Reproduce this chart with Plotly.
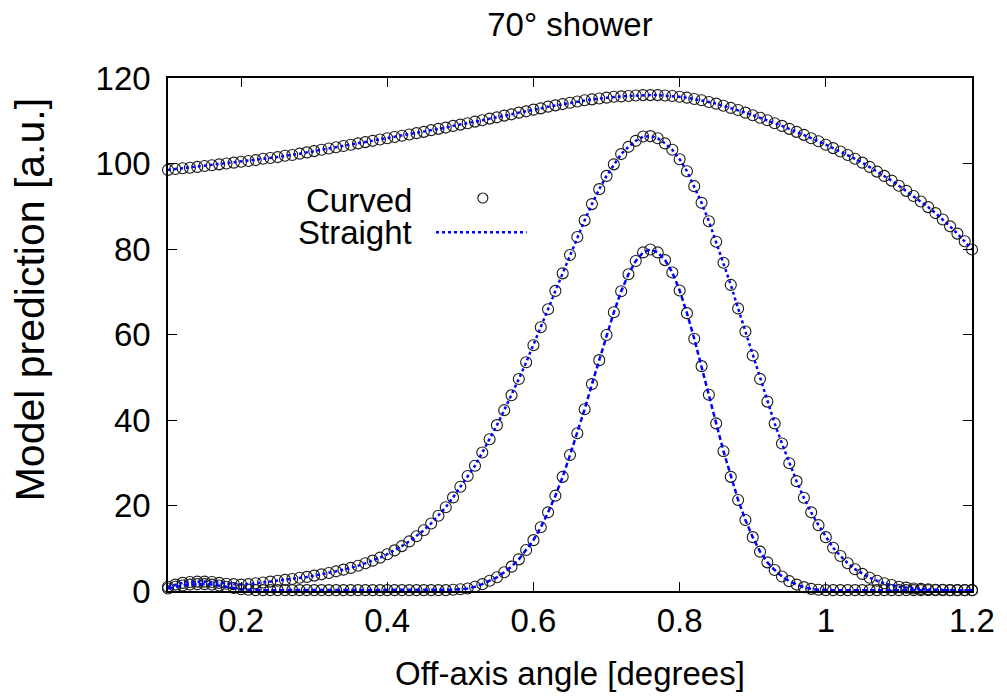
import plotly.graph_objects as go

# ---------------- data ----------------
angle = [0.10, 0.11, 0.12, 0.13, 0.14, 0.15, 0.16, 0.17, 0.18, 0.19,
         0.20, 0.21, 0.22, 0.23, 0.24, 0.25, 0.26, 0.27, 0.28, 0.29,
         0.30, 0.31, 0.32, 0.33, 0.34, 0.35, 0.36, 0.37, 0.38, 0.39,
         0.40, 0.41, 0.42, 0.43, 0.44, 0.45, 0.46, 0.47, 0.48, 0.49,
         0.50, 0.51, 0.52, 0.53, 0.54, 0.55, 0.56, 0.57, 0.58, 0.59,
         0.60, 0.61, 0.62, 0.63, 0.64, 0.65, 0.66, 0.67, 0.68, 0.69,
         0.70, 0.71, 0.72, 0.73, 0.74, 0.75, 0.76, 0.77, 0.78, 0.79,
         0.80, 0.81, 0.82, 0.83, 0.84, 0.85, 0.86, 0.87, 0.88, 0.89,
         0.90, 0.91, 0.92, 0.93, 0.94, 0.95, 0.96, 0.97, 0.98, 0.99,
         1.00, 1.01, 1.02, 1.03, 1.04, 1.05, 1.06, 1.07, 1.08, 1.09,
         1.10, 1.11, 1.12, 1.13, 1.14, 1.15, 1.16, 1.17, 1.18, 1.19,
         1.20]

broad = [98.5, 98.7, 98.9, 99.0, 99.2, 99.4, 99.6, 99.8, 100.0, 100.2,
         100.4, 100.6, 100.8, 101.1, 101.3, 101.5, 101.8, 102.0, 102.3, 102.6,
         102.9, 103.2, 103.5, 103.8, 104.1, 104.4, 104.7, 105.0, 105.3, 105.6,
         105.9, 106.2, 106.5, 106.8, 107.1, 107.4, 107.8, 108.1, 108.4, 108.8,
         109.1, 109.4, 109.8, 110.1, 110.5, 110.8, 111.2, 111.5, 111.9, 112.2,
         112.6, 112.9, 113.3, 113.6, 113.9, 114.2, 114.5, 114.8, 115.0, 115.2,
         115.4, 115.6, 115.7, 115.8, 115.9, 116.0, 116.0, 116.0, 115.9, 115.8,
         115.6, 115.4, 115.1, 114.8, 114.4, 114.0, 113.5, 113.0, 112.5, 111.9,
         111.3, 110.7, 110.1, 109.4, 108.8, 108.1, 107.4, 106.7, 105.9, 105.2,
         104.4, 103.6, 102.8, 102.0, 101.1, 100.2, 99.2, 98.1, 97.1, 96.0,
         94.8, 93.6, 92.4, 91.1, 89.8, 88.4, 86.9, 85.3, 83.6, 81.8,
         79.9]

medium = [1.0, 1.5, 1.9, 2.1, 2.2, 2.2, 2.1, 1.9, 1.7, 1.6,
          1.5, 1.6, 1.8, 2.0, 2.2, 2.4, 2.6, 2.8, 3.1, 3.3,
          3.6, 3.9, 4.2, 4.6, 5.0, 5.4, 5.9, 6.5, 7.1, 7.8,
          8.6, 9.5, 10.5, 11.6, 12.8, 14.2, 15.8, 17.6, 19.6, 21.9,
          24.4, 26.9, 29.3, 32.4, 35.5, 38.8, 42.3, 45.8, 49.6, 53.5,
          57.5, 61.7, 65.9, 70.2, 74.3, 78.6, 82.8, 86.7, 90.5, 94.0,
          97.1, 99.8, 102.2, 103.9, 105.3, 106.3, 106.4, 105.9, 104.7, 103.2,
          101.0, 98.2, 94.7, 90.8, 86.5, 81.7, 76.8, 71.6, 66.1, 60.7,
          55.1, 49.6, 44.3, 39.2, 34.5, 29.9, 25.7, 21.8, 18.4, 15.4,
          12.6, 10.1, 8.2, 6.5, 5.1, 4.0, 3.1, 2.4, 1.8, 1.4,
          1.0, 0.8, 0.6, 0.5, 0.4, 0.3, 0.3, 0.2, 0.2, 0.2,
          0.2]

narrow = [0.6, 1.0, 1.3, 1.5, 1.6, 1.6, 1.5, 1.3, 1.0, 0.7,
          0.4, 0.3, 0.2, 0.2, 0.2, 0.2, 0.2, 0.2, 0.2, 0.2,
          0.2, 0.2, 0.2, 0.2, 0.2, 0.2, 0.2, 0.2, 0.2, 0.2,
          0.2, 0.2, 0.2, 0.2, 0.2, 0.2, 0.2, 0.2, 0.2, 0.3,
          0.4, 0.6, 1.0, 1.6, 2.4, 3.2, 4.4, 5.7, 7.4, 9.6,
          11.9, 14.9, 18.4, 22.3, 26.7, 31.8, 36.9, 42.5, 48.4, 54.0,
          59.9, 65.2, 70.1, 74.1, 77.2, 79.2, 79.9, 79.2, 77.4, 74.5,
          70.3, 65.0, 59.0, 52.6, 45.9, 39.2, 32.7, 26.7, 21.3, 16.6,
          12.6, 9.2, 6.7, 4.9, 3.4, 2.3, 1.5, 0.9, 0.5, 0.3,
          0.2, 0.2, 0.2, 0.2, 0.2, 0.2, 0.2, 0.2, 0.2, 0.2,
          0.2, 0.2, 0.2, 0.2, 0.2, 0.2, 0.2, 0.2, 0.2, 0.2,
          0.2]

series = [("broad", broad, "dot"), ("medium", medium, "dot"), ("narrow", narrow, "5px,3px")]
for _, s, _ in series:
    assert len(s) == len(angle)

x_ticks = [0.2, 0.4, 0.6, 0.8, 1.0, 1.2]
x_ticktext = ["0.2", "0.4", "0.6", "0.8", "1", "1.2"]
y_ticks = [0, 20, 40, 60, 80, 100, 120]

FONT = "Liberation Sans, Arial, Helvetica, sans-serif"
BLUE = "#0000ff"
INK = "#1a1a1a"

fig = go.Figure()

# "Curved" model: open circles
for name, vals, _ in series:
    fig.add_trace(go.Scatter(
        x=angle, y=vals, mode="markers", name="Curved",
        marker=dict(symbol="circle-open", size=11, color=INK,
                    line=dict(width=1.1, color=INK)),
        cliponaxis=False, showlegend=False))

# "Straight" model: blue dotted lines
for name, vals, dash in series:
    fig.add_trace(go.Scatter(
        x=angle, y=vals, mode="lines", name="Straight",
        line=dict(color=BLUE, width=2.5, dash=dash),
        cliponaxis=False, showlegend=False))

axis_common = dict(
    showline=True, linecolor="black", linewidth=1.5, mirror="ticks",
    ticks="inside", ticklen=9, tickwidth=1.3, tickcolor="black",
    showgrid=False, zeroline=False,
    tickfont=dict(family=FONT, size=33, color="black"),
)

fig.update_layout(
    width=1007, height=698,
    paper_bgcolor="white", plot_bgcolor="white",
    margin=dict(l=168, r=32, t=78, b=107),
    font=dict(family=FONT, size=33, color="black"),
    title=dict(text="70° shower", x=0.5, xref="paper", xanchor="center",
               y=1 - 24 / 698, yref="container", yanchor="middle",
               font=dict(family=FONT, size=33, color="black")),
    xaxis=dict(range=[0.1, 1.2], tickvals=x_ticks, ticktext=x_ticktext,
               title=dict(text="Off-axis angle [degrees]", standoff=24,
                          font=dict(family=FONT, size=33, color="black")),
               **axis_common),
    yaxis=dict(range=[0, 120], tickvals=y_ticks, ticklabelstandoff=9,
               **axis_common),
    showlegend=False,
)

# y axis title (placed like the reference: a little above the plot centre)
fig.add_annotation(text="Model prediction [a.u.]", textangle=-90,
                   xref="paper", yref="paper", x=-0.172, y=0.568,
                   xanchor="center", yanchor="middle", showarrow=False,
                   font=dict(family=FONT, size=41, color="black"))

# legend (gnuplot style: text right-aligned, key sample on the right)
fig.add_annotation(text="Curved", xref="paper", yref="paper",
                   x=0.306, y=0.762, xanchor="right", yanchor="middle",
                   showarrow=False, font=dict(family=FONT, size=33, color="black"))
fig.add_annotation(text="Straight", xref="paper", yref="paper",
                   x=0.306, y=0.698, xanchor="right", yanchor="middle",
                   showarrow=False, font=dict(family=FONT, size=33, color="black"))
fig.add_shape(type="circle", xref="paper", yref="paper",
              xsizemode="pixel", ysizemode="pixel",
              xanchor=0.3916, yanchor=0.766, x0=-5, x1=5, y0=-5, y1=5,
              line=dict(color=INK, width=1.1))
fig.add_shape(type="line", xref="paper", yref="paper",
              x0=0.3333, x1=0.4461, y0=0.6992, y1=0.6992,
              line=dict(color=BLUE, width=2.5, dash="dot"))

fig.write_html("out.html", config={"displayModeBar": False},
               post_script="document.body.style.margin='0';"
                           "document.body.style.overflow='hidden';")
